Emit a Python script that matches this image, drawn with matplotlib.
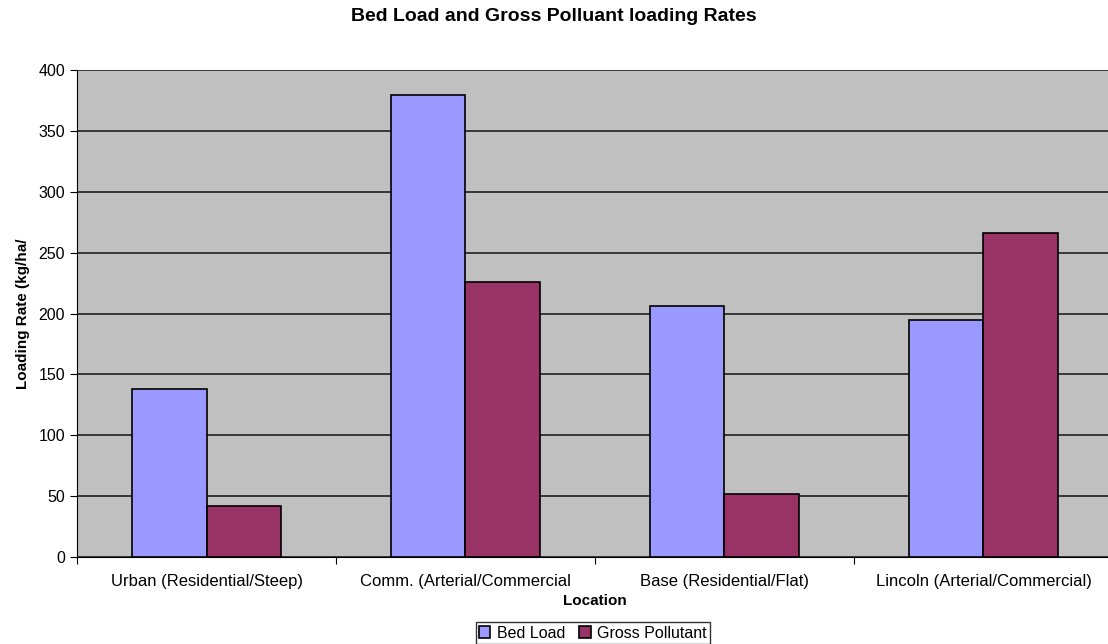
import numpy as np
import matplotlib.pyplot as plt

plt.rcParams['font.family'] = ['Liberation Sans', 'DejaVu Sans']

locations = ['Urban (Residential/Steep)', 'Comm. (Arterial/Commercial',
             'Base (Residential/Flat)', 'Lincoln (Arterial/Commercial)']
bed_load = [138, 380, 206, 195]
gross_pollutant = [42, 226, 52, 266]

fig = plt.figure(figsize=(11.08, 6.44), dpi=100)
# plot area runs a little past the right edge of the canvas
ax = fig.add_axes([0.0695, 0.135, 0.935, 0.756])
ax.set_facecolor('#C0C0C0')

x = np.arange(len(locations))
w = 0.286
ax.bar(x - w / 2, bed_load, w, color='#9999FF', edgecolor='black', linewidth=1.2, label='Bed Load', zorder=3)
ax.bar(x + w / 2, gross_pollutant, w, color='#993366', edgecolor='black', linewidth=1.2, label='Gross Pollutant', zorder=3)

ax.set_xlim(-0.5, len(locations) - 0.5)
ax.set_ylim(0, 400)
ax.set_yticks(range(0, 401, 50))
ax.yaxis.grid(True, color='#202020', linewidth=1.2, zorder=1)
ax.set_axisbelow(True)

# category labels sit between the tick marks
ax.set_xticks(np.arange(-0.5, len(locations), 1))
ax.set_xticklabels([])
ax.set_xticks(x, minor=True)
ax.set_xticklabels(locations, minor=True, fontsize=12)
ax.tick_params(axis='x', which='minor', length=0, pad=12)
ax.tick_params(axis='x', which='major', length=5, direction='out')
ax.tick_params(axis='y', labelsize=11.5, length=5, direction='out')

for side in ['top', 'right']:
    ax.spines[side].set_visible(False)
ax.spines['left'].set_color('black')
ax.spines['bottom'].set_color('black')

ax.set_xlabel('Location', fontsize=11, fontweight='bold', labelpad=4)
ax.set_ylabel('Loading Rate (kg/ha/', fontsize=11, fontweight='bold', labelpad=6)
fig.suptitle('Bed Load and Gross Polluant loading Rates', fontsize=14, fontweight='bold', y=0.987)

leg = fig.legend(loc='lower center', bbox_to_anchor=(0.535, -0.012), ncol=2, fontsize=11.5,
                 frameon=True, fancybox=False, edgecolor='black', handlelength=0.7,
                 handleheight=0.7, handletextpad=0.4, columnspacing=0.9, borderpad=0.2)
leg.get_frame().set_linewidth(1)

fig.savefig('out.png', dpi=100)
